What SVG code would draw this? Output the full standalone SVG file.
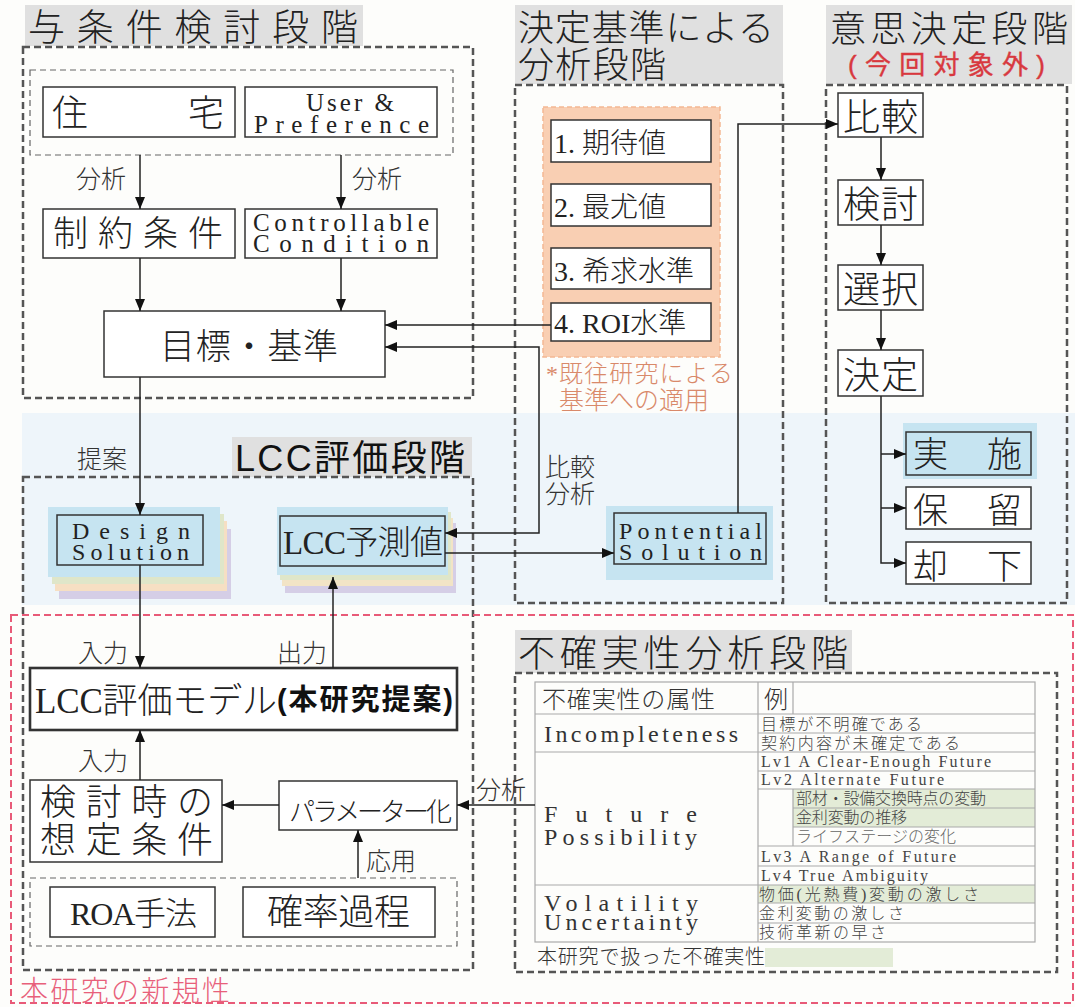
<svg xmlns="http://www.w3.org/2000/svg" width="1075" height="1007" viewBox="0 0 1075 1007">
<defs>
<style>
.t{font-family:"Liberation Serif","Noto Sans CJK JP",serif;fill:#222;font-weight:300}
.m{font-family:"Liberation Serif",serif;fill:#222}
.s{font-family:"Liberation Sans","Noto Sans CJK JP",sans-serif;fill:#111}
.lb{font-family:"Liberation Serif","Noto Sans CJK JP",serif;fill:#333;font-size:25px;font-weight:300}
.box{fill:#fff;stroke:#333;stroke-width:1.5}
.dash{fill:none;stroke:#555;stroke-width:2.5;stroke-dasharray:7 4}
.dash2{fill:none;stroke:#666;stroke-width:1.2;stroke-dasharray:6 4}
.ttl{fill:#e0e0e0}
.blue{fill:#c6e4f1}
.tb{fill:none;stroke:#aaa;stroke-width:1.2}
.tt{font-family:"Liberation Serif","Noto Sans CJK JP",serif;fill:#444;font-size:16px;font-weight:300}
.tm{font-family:"Liberation Serif",serif;fill:#444;font-size:16px}
.tl{font-family:"Liberation Serif",serif;fill:#333;font-size:24px}
#conn line,#conn path{stroke:#222;stroke-width:1.5;fill:none}
</style>
<marker id="ah" viewBox="0 0 12 10" refX="12" refY="5" markerWidth="12" markerHeight="10" markerUnits="userSpaceOnUse" orient="auto-start-reverse"><path d="M0,0 L12,5 L0,10 z" fill="#111"/></marker>
</defs>
<rect width="1075" height="1007" fill="#fdfdfb"/>
<rect x="22" y="413" width="1053" height="192" fill="#eef5fa"/>

<g id="stage1">
<rect class="ttl" x="25" y="5" width="338" height="41"/>
<text class="t" x="28" y="41" font-size="37" textLength="330" lengthAdjust="spacing">与条件検討段階</text>
<rect class="dash" x="23" y="47" width="450" height="351"/>
<rect class="dash2" x="30" y="70" width="423" height="85"/>
</g>
<g id="n-jutaku"><rect class="box" x="43" y="87" width="192" height="50"/><text class="t" x="52 188" y="126" font-size="36">住宅</text></g>
<g id="n-user"><rect class="box" x="245" y="87" width="192" height="50"/>
<text class="m" font-size="25"><tspan x="306" y="111" textLength="88" lengthAdjust="spacing">User &amp;</tspan><tspan x="254" y="133" textLength="175" lengthAdjust="spacing">Preference</tspan></text></g>
<g id="n-seiyaku"><rect class="box" x="43" y="209" width="192" height="49"/><text class="t" x="53" y="246" font-size="35" textLength="170" lengthAdjust="spacing">制約条件</text></g>
<g id="n-control"><rect class="box" x="245" y="209" width="192" height="49"/>
<text class="m" font-size="25"><tspan x="253" y="231" textLength="176" lengthAdjust="spacing">Controllable</tspan><tspan x="253" y="252" textLength="176" lengthAdjust="spacing">Condition</tspan></text></g>
<g id="n-mokuhyo"><rect class="box" x="104" y="311" width="281" height="66"/><text class="t" x="160" y="359" font-size="35" textLength="178" lengthAdjust="spacing">目標・基準</text></g>

<g id="stage2">
<rect class="ttl" x="515" y="5" width="268" height="79"/>
<text class="t" x="518" y="41" font-size="36" textLength="256" lengthAdjust="spacing">決定基準による</text>
<text class="t" x="518" y="78" font-size="36" textLength="148" lengthAdjust="spacing">分析段階</text>
<rect class="dash" x="515" y="85" width="268" height="518"/>
<rect x="543" y="107" width="177" height="250" fill="#f9cfb3" stroke="#f3b894" stroke-width="1.5" stroke-dasharray="5 3"/>
<text class="t" x="546" y="382" font-size="24" style="fill:#d9896a" textLength="187" lengthAdjust="spacing">*既往研究による</text>
<text class="t" x="559" y="409" font-size="25" style="fill:#d9896a" textLength="150" lengthAdjust="spacing">基準への適用</text>
</g>
<g id="n-c1"><rect class="box" x="551" y="120" width="160" height="42"/><text class="t" x="554" y="153" font-size="28">1. 期待値</text></g>
<g id="n-c2"><rect class="box" x="551" y="184" width="160" height="42"/><text class="t" x="554" y="217" font-size="28">2. 最尤値</text></g>
<g id="n-c3"><rect class="box" x="551" y="248" width="160" height="41"/><text class="t" x="554" y="281" font-size="28">3. 希求水準</text></g>
<g id="n-c4"><rect class="box" x="551" y="303" width="160" height="38"/><text class="t" x="554" y="333" font-size="28">4. ROI水準</text></g>

<g id="stage3">
<rect class="ttl" x="826" y="5" width="246" height="79"/>
<text class="t" x="830" y="42" font-size="36" textLength="238" lengthAdjust="spacing">意思決定段階</text>
<text x="848" y="74" font-size="26" font-family="Liberation Sans,Noto Sans CJK JP,sans-serif" fill="#d8383e" stroke="#d8383e" stroke-width="0.4" textLength="197" lengthAdjust="spacing">(今回対象外)</text>
<rect class="dash" x="826" y="85" width="241" height="518"/>
</g>
<g id="n-hikaku"><rect class="box" x="838" y="93" width="85" height="44"/><text class="t" x="843" y="131" font-size="37" textLength="75" lengthAdjust="spacing">比較</text></g>
<g id="n-kento"><rect class="box" x="838" y="180" width="85" height="45"/><text class="t" x="843" y="218" font-size="37" textLength="75" lengthAdjust="spacing">検討</text></g>
<g id="n-sentaku"><rect class="box" x="838" y="265" width="85" height="45"/><text class="t" x="843" y="303" font-size="37" textLength="75" lengthAdjust="spacing">選択</text></g>
<g id="n-kettei"><rect class="box" x="838" y="350" width="85" height="46"/><text class="t" x="843" y="389" font-size="37" textLength="75" lengthAdjust="spacing">決定</text></g>
<g id="n-jisshi"><rect class="blue" x="903" y="423" width="134" height="56"/><rect class="box" x="906" y="432" width="125" height="43" style="fill:#c6e4f1"/><text class="t" x="913 987" y="467" font-size="35">実施</text></g>
<g id="n-horyu"><rect class="box" x="906" y="487" width="125" height="42"/><text class="t" x="913 987" y="523" font-size="35">保留</text></g>
<g id="n-kyakka"><rect class="box" x="906" y="542" width="125" height="42"/><text class="t" x="913 987" y="579" font-size="35">却下</text></g>

<g id="stage4">
<rect class="ttl" x="232" y="437" width="240" height="40"/>
<text class="s" x="235" y="471" font-size="36" textLength="230" lengthAdjust="spacing">LCC評価段階</text>
<rect class="dash" x="23" y="477" width="450" height="493"/>
</g>
<g id="n-design">
<rect x="59" y="529" width="172" height="70" fill="#d5cee6"/>
<rect x="55" y="521" width="172" height="70" fill="#f6dfc3"/>
<rect x="52" y="514" width="172" height="70" fill="#dfe6c9"/>
<rect class="blue" x="48" y="507" width="172" height="70"/>
<rect class="box" x="57" y="515" width="146" height="50" style="fill:none"/>
<text class="m" font-size="24"><tspan x="72" y="539" textLength="118" lengthAdjust="spacing">Design</tspan><tspan x="72" y="560" textLength="117" lengthAdjust="spacing">Solution</tspan></text>
</g>
<g id="n-lccyosoku">
<rect x="285" y="523" width="171" height="70" fill="#d5cee6"/>
<rect x="282" y="518" width="171" height="68" fill="#f2e4c6"/>
<rect x="280" y="512" width="171" height="68" fill="#dfe6c9"/>
<rect class="blue" x="277" y="507" width="171" height="68"/>
<rect class="box" x="280" y="516" width="165" height="50" style="fill:none"/>
<text class="t" x="283" y="554" font-size="33" textLength="160" lengthAdjust="spacing">LCC予測値</text>
</g>
<g id="n-potential">
<rect class="blue" x="606" y="506" width="167" height="74"/>
<rect class="box" x="614" y="513" width="152" height="51" style="fill:none"/>
<text class="m" font-size="24"><tspan x="619" y="539" textLength="143" lengthAdjust="spacing">Pontential</tspan><tspan x="619" y="560" textLength="143" lengthAdjust="spacing">Solution</tspan></text>
</g>

<g id="novelty">
<rect x="11" y="615" width="1062" height="388" fill="none" stroke="#e85a78" stroke-width="2" stroke-dasharray="7 4"/>
<text class="t" x="20" y="1001" font-size="28" style="fill:#e8607a" textLength="210" lengthAdjust="spacing">本研究の新規性</text>
<rect class="dash2" x="30" y="878" width="427" height="68"/>
</g>
<g id="n-model"><rect class="box" x="30" y="668" width="427" height="62" style="stroke-width:2.6"/>
<text class="t" x="35" y="713" font-size="35" textLength="242" lengthAdjust="spacing">LCC評価モデル</text>
<text x="277" y="710" font-size="29" font-family="Liberation Sans,Noto Sans CJK JP,sans-serif" font-weight="bold" fill="#111" textLength="176" lengthAdjust="spacing">(本研究提案)</text></g>
<g id="n-soutei"><rect class="box" x="30" y="780" width="192" height="82"/>
<text class="t" x="40" y="815" font-size="36" textLength="173" lengthAdjust="spacing">検討時の</text>
<text class="t" x="40" y="853" font-size="36" textLength="173" lengthAdjust="spacing">想定条件</text></g>
<g id="n-param"><rect class="box" x="279" y="781" width="178" height="49"/><text class="t" x="289" y="821" font-size="26" textLength="163" lengthAdjust="spacing">パラメーター化</text></g>
<g id="n-roa"><rect class="box" x="50" y="887" width="165" height="50"/><text class="t" x="70" y="925" font-size="32" textLength="127" lengthAdjust="spacing">ROA手法</text></g>
<g id="n-kakuritsu"><rect class="box" x="243" y="887" width="192" height="50"/><text class="t" x="267" y="925" font-size="36" textLength="143" lengthAdjust="spacing">確率過程</text></g>

<g id="stage5">
<rect class="ttl" x="515" y="630" width="337" height="43"/>
<text class="t" x="518" y="667" font-size="37" textLength="330" lengthAdjust="spacing">不確実性分析段階</text>
<rect class="dash" x="515" y="673" width="542" height="299"/>
</g>
<g id="table">
<rect x="793" y="789" width="242" height="38" fill="#e3ecd7"/>
<rect x="758" y="885" width="277" height="18" fill="#e3ecd7"/>
<rect x="765" y="948" width="128" height="19" fill="#e3ecd7"/>
<rect class="tb" x="535" y="682" width="500" height="260"/>
<path class="tb" d="M535,714H1035M758,733H1035M535,752H1035M758,771H1035M758,789H1035M793,808H1035M793,827H1035M758,846H1035M758,866H1035M535,885H1035M758,903H1035M758,923H1035M758,682V942M793,682V714M793,789V846"/>
<text class="t" x="542" y="708" font-size="24" style="fill:#333" textLength="173" lengthAdjust="spacing">不確実性の属性</text>
<text class="t" x="764" y="708" font-size="24" style="fill:#333">例</text>
<text class="tl" x="544" y="742" textLength="194" lengthAdjust="spacing">Incompleteness</text>
<text class="tl"><tspan x="544" y="822" textLength="153" lengthAdjust="spacing">F u t u r e</tspan><tspan x="544" y="845" textLength="153" lengthAdjust="spacing">Possibility</tspan></text>
<text class="tl" font-size="23"><tspan x="544" y="911" textLength="154" lengthAdjust="spacing">Volatility</tspan><tspan x="544" y="930" textLength="154" lengthAdjust="spacing">Uncertainty</tspan></text>
<text class="tt" x="761" y="730" font-size="17" textLength="161" lengthAdjust="spacing">目標が不明確である</text>
<text class="tt" x="761" y="749" font-size="17" textLength="199" lengthAdjust="spacing">契約内容が未確定である</text>
<text class="tm" x="761" y="767" textLength="230" lengthAdjust="spacing">Lv1 A Clear-Enough Future</text>
<text class="tm" x="761" y="785" textLength="183" lengthAdjust="spacing">Lv2 Alternate Future</text>
<text class="tt" x="796" y="804" textLength="190" lengthAdjust="spacing">部材・設備交換時点の変動</text>
<text class="tt" x="796" y="823" textLength="111" lengthAdjust="spacing">金利変動の推移</text>
<text class="tt" x="796" y="842" style="fill:#666" textLength="160" lengthAdjust="spacing">ライフステージの変化</text>
<text class="tm" x="761" y="862" textLength="195" lengthAdjust="spacing">Lv3 A Range of Future</text>
<text class="tm" x="761" y="881" textLength="167" lengthAdjust="spacing">Lv4 True Ambiguity</text>
<text class="tt" x="759" y="900" textLength="220" lengthAdjust="spacing">物価(光熱費)変動の激しさ</text>
<text class="tt" x="759" y="919" textLength="145" lengthAdjust="spacing">金利変動の激しさ</text>
<text class="tt" x="759" y="938" textLength="127" lengthAdjust="spacing">技術革新の早さ</text>
<text class="t" x="537" y="964" font-size="20" style="fill:#333" textLength="228" lengthAdjust="spacing">本研究で扱った不確実性</text>
</g>

<g id="conn">
<line x1="140" y1="155" x2="140" y2="209" marker-end="url(#ah)"/>
<line x1="341" y1="155" x2="341" y2="209" marker-end="url(#ah)"/>
<line x1="140" y1="258" x2="140" y2="311" marker-end="url(#ah)"/>
<line x1="341" y1="258" x2="341" y2="311" marker-end="url(#ah)"/>
<line x1="551" y1="325" x2="385" y2="325" marker-end="url(#ah)"/>
<path d="M445,533 H539 V347 H385" marker-start="url(#ah)" marker-end="url(#ah)"/>
<line x1="445" y1="553" x2="614" y2="553" marker-end="url(#ah)"/>
<path d="M738,513 V124 H838" marker-end="url(#ah)"/>
<line x1="881" y1="137" x2="881" y2="180" marker-end="url(#ah)"/>
<line x1="881" y1="225" x2="881" y2="265" marker-end="url(#ah)"/>
<line x1="881" y1="310" x2="881" y2="350" marker-end="url(#ah)"/>
<path d="M881,396 V563 H906" marker-end="url(#ah)"/>
<line x1="881" y1="454" x2="906" y2="454" marker-end="url(#ah)"/>
<line x1="881" y1="508" x2="906" y2="508" marker-end="url(#ah)"/>
<line x1="140" y1="377" x2="140" y2="515" marker-end="url(#ah)"/>
<line x1="140" y1="565" x2="140" y2="668" marker-end="url(#ah)"/>
<line x1="333" y1="668" x2="333" y2="577" marker-end="url(#ah)"/>
<line x1="140" y1="780" x2="140" y2="730" marker-end="url(#ah)"/>
<line x1="279" y1="805" x2="222" y2="805" marker-end="url(#ah)"/>
<line x1="535" y1="805" x2="457" y2="805" marker-end="url(#ah)"/>
<line x1="358" y1="878" x2="358" y2="830" marker-end="url(#ah)"/>
</g>
<g id="labels">
<text class="lb" x="76" y="188">分析</text>
<text class="lb" x="352" y="188">分析</text>
<text class="lb" x="77" y="468">提案</text>
<text class="lb" x="545" y="476">比較</text>
<text class="lb" x="545" y="503">分析</text>
<text class="lb" x="78" y="662">入力</text>
<text class="lb" x="277" y="662">出力</text>
<text class="lb" x="78" y="770">入力</text>
<text class="lb" x="366" y="870">応用</text>
<text class="lb" x="476" y="799">分析</text>
</g>
</svg>
